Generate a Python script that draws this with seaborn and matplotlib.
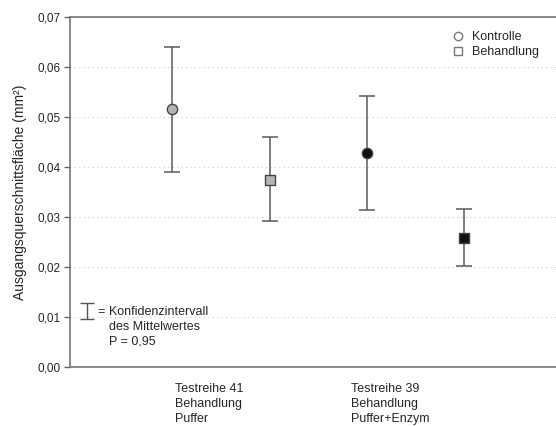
import numpy as np
import pandas as pd
import seaborn as sns
import matplotlib.pyplot as plt
from matplotlib.ticker import FuncFormatter
from matplotlib.lines import Line2D

# values
series = ['Testreihe 41', 'Testreihe 41', 'Testreihe 39', 'Testreihe 39']
groups = ['Kontrolle', 'Behandlung', 'Kontrolle', 'Behandlung']
means = [0.0516, 0.0375, 0.0429, 0.0258]
ci_low = [0.0390, 0.0293, 0.0314, 0.0203]
ci_high = [0.0641, 0.0460, 0.0542, 0.0316]
xlabels = ['Testreihe 41\nBehandlung\nPuffer', 'Testreihe 39\nBehandlung\nPuffer+Enzym']

sns.set_style('white')
plt.rcParams['font.family'] = ['Liberation Sans', 'DejaVu Sans']

df = pd.DataFrame({'Reihe': series, 'Gruppe': groups, 'Wert': means,
                   'lo': ci_low, 'hi': ci_high})
df['pos'] = np.arange(len(df))

fig = plt.figure(figsize=(5.56, 4.26), dpi=100)
ax = fig.add_axes([0.126, 0.1385, 0.874, 0.8215])

ax.errorbar(df['pos'], df['Wert'],
            yerr=[df['Wert'] - df['lo'], df['hi'] - df['Wert']],
            fmt='none', ecolor='#5a5a5a', elinewidth=1.1, capsize=6, capthick=1.1, zorder=2)

fills = {'Testreihe 41': '#b5b5b5', 'Testreihe 39': '#111111'}
shapes = {'Kontrolle': 'o', 'Behandlung': 's'}
for (reihe, gruppe), sub in df.groupby(['Reihe', 'Gruppe']):
    sns.scatterplot(data=sub, x='pos', y='Wert', ax=ax, marker=shapes[gruppe],
                    color=fills[reihe], edgecolor='#444444', linewidth=1,
                    s=55 if gruppe == 'Kontrolle' else 45, zorder=3, legend=False)

ax.set_xlim(-1.05, 3.94)
ax.set_ylim(0, 0.07)
ax.set_yticks(np.arange(0, 0.071, 0.01))
ax.yaxis.set_major_formatter(FuncFormatter(lambda v, p: f'{v:.2f}'.replace('.', ',')))
ax.tick_params(axis='y', left=True, length=4, width=1, color='#666666', labelsize=8.5, pad=3)
ax.set_xticks([])
ax.set_xlabel('')
ax.set_ylabel('Ausgangsquerschnittsfläche (mm²)', fontsize=10, labelpad=7)
ax.yaxis.grid(True, linestyle=(0, (1, 3)), color='#cccccc', linewidth=0.8)
ax.set_axisbelow(True)
for side in ['left', 'bottom', 'top']:
    ax.spines[side].set_color('#777777')
    ax.spines[side].set_linewidth(1.2)
ax.spines['right'].set_visible(False)

# group labels under the axis
for i, lab in enumerate(xlabels):
    center = df.loc[df['Reihe'] == series[2 * i], 'pos'].mean()
    ax.text(center - 0.47 - 0.19 * i, -0.0032, lab, ha='left', va='top', fontsize=9,
            linespacing=1.32)

# legend
handles = [Line2D([], [], marker=shapes[g], linestyle='none', markerfacecolor='white',
                  markeredgecolor='#777777', markersize=6) for g in ['Kontrolle', 'Behandlung']]
ax.legend(handles, ['Kontrolle', 'Behandlung'], loc='upper right', frameon=False,
          fontsize=9, handletextpad=0.6, borderaxespad=0.75, labelspacing=0.2,
          handlelength=1.0, bbox_to_anchor=(0.995, 1.0))

# confidence interval note
ax.errorbar([-0.872], [0.0112], yerr=[[0.0016], [0.0016]], fmt='none', ecolor='#555555',
            elinewidth=1, capsize=5, capthick=1)
ax.text(-0.77, 0.0110, '=', va='center', ha='left', fontsize=9)
ax.text(-0.65, 0.0122, 'Konfidenzintervall\ndes Mittelwertes\nP = 0,95', va='top', ha='left',
        fontsize=9, linespacing=1.32)

fig.savefig('out.png', dpi=100)
